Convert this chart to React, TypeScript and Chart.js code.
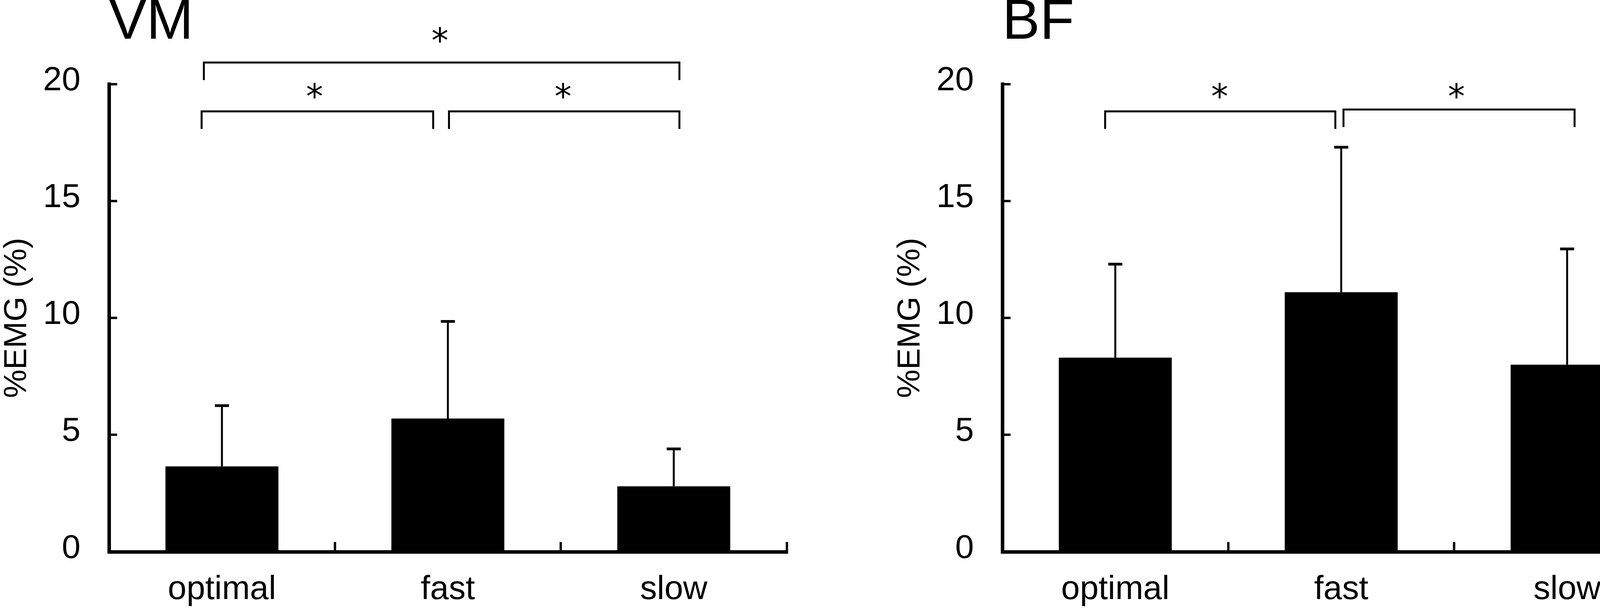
import React, { useEffect, useRef } from 'react';
import { Chart, registerables } from 'chart.js';

Chart.register(...registerables);

// ---------- data ----------
const CATEGORIES = ['optimal', 'fast', 'slow'];
const Y_TICKS = [0, 5, 10, 15, 20];

const VM_MEAN = [3.65, 5.7, 2.8];
const VM_SD = [2.6, 4.15, 1.6];
const BF_MEAN = [8.3, 11.1, 8.0];
const BF_SD = [4.0, 6.2, 4.95];

// significance brackets (x in category units, y in %EMG units)
const VM_BRACKET_FROM = [-0.08, -0.09, 1.005];
const VM_BRACKET_TO = [2.025, 0.935, 2.025];
const VM_BRACKET_LEVEL = [20.92, 18.83, 18.83];
const VM_STAR_X = [0.965, 0.41, 1.51];
const VM_STAR_Y = [22.1, 19.72, 19.72];

const BF_BRACKET_FROM = [-0.045, 1.01];
const BF_BRACKET_TO = [0.974, 2.033];
const BF_BRACKET_LEVEL = [18.83, 18.91];
const BF_STAR_X = [0.462, 1.51];
const BF_STAR_Y = [19.72, 19.72];

// ---------- styles ----------
const FONT = "'Liberation Sans', Arial, sans-serif";
const CANVAS_W = 2030;
const CANVAS_H = 1561;
const LEG_PX = 45;
const STAR_INK = 40;

function makePlugin(mean: number[], sd: number[], from: number[], to: number[], level: number[], starX: number[], starY: number[]) {
  return {
    id: 'annot',
    afterDatasetsDraw(chart: any) {
      const ctx = chart.ctx;
      const ys = chart.scales.y;
      const meta = chart.getDatasetMeta(0);
      ctx.save();
      ctx.strokeStyle = '#000';
      ctx.lineCap = 'butt';
      meta.data.forEach((bar: any, i: number) => {
        const x = bar.x;
        const yb = ys.getPixelForValue(mean[i]);
        const yt = ys.getPixelForValue(mean[i] + sd[i]);
        ctx.lineWidth = 5;
        ctx.beginPath();
        ctx.moveTo(x, yb);
        ctx.lineTo(x, yt);
        ctx.stroke();
        ctx.lineWidth = 7;
        ctx.beginPath();
        ctx.moveTo(x - 18, yt);
        ctx.lineTo(x + 18, yt);
        ctx.stroke();
      });
      ctx.restore();
    },
    afterDraw(chart: any) {
      const ctx = chart.ctx;
      const xs = chart.scales.x;
      const ys = chart.scales.y;
      ctx.save();
      ctx.strokeStyle = '#000';
      ctx.fillStyle = '#000';
      ctx.lineWidth = 5;
      ctx.lineJoin = 'miter';
      for (let i = 0; i < from.length; i++) {
        const x1 = xs.getPixelForValue(from[i]);
        const x2 = xs.getPixelForValue(to[i]);
        const yl = ys.getPixelForValue(level[i]);
        ctx.beginPath();
        ctx.moveTo(x1, yl + LEG_PX);
        ctx.lineTo(x1, yl);
        ctx.lineTo(x2, yl);
        ctx.lineTo(x2, yl + LEG_PX);
        ctx.stroke();
      }
      ctx.font = `100px 'DejaVu Sans'`;
      const m0 = ctx.measureText('*');
      const h0 = m0.actualBoundingBoxAscent + m0.actualBoundingBoxDescent;
      const size = (100 * STAR_INK) / (h0 || 45);
      ctx.font = `${size}px 'DejaVu Sans'`;
      const m = ctx.measureText('*');
      ctx.textAlign = 'center';
      ctx.textBaseline = 'alphabetic';
      for (let i = 0; i < starX.length; i++) {
        const sx = xs.getPixelForValue(starX[i]);
        const sy = ys.getPixelForValue(starY[i]);
        const by = sy + (m.actualBoundingBoxAscent - m.actualBoundingBoxDescent) / 2;
        ctx.fillText('*', sx, by);
      }
      ctx.restore();
    },
  };
}

function Panel(props: {
  title: string; left: number; mean: number[]; sd: number[];
  from: number[]; to: number[]; level: number[]; starX: number[]; starY: number[];
}) {
  const ref = useRef<HTMLCanvasElement>(null);
  useEffect(() => {
    if (!ref.current) return;
    const chart = new Chart(ref.current, {
      type: 'bar',
      data: {
        labels: CATEGORIES,
        datasets: [{
          data: props.mean,
          backgroundColor: '#000',
          borderWidth: 0,
          barPercentage: 0.5,
          categoryPercentage: 1,
        }],
      },
      options: {
        responsive: false,
        animation: false,
        devicePixelRatio: 1,
        layout: { padding: { top: 0, left: 0, right: 16, bottom: 0 } },
        plugins: {
          legend: { display: false },
          tooltip: { enabled: false },
          title: {
            display: true,
            text: props.title,
            align: 'start',
            fullSize: false,
            color: '#000',
            font: { family: FONT, size: 144, weight: 'normal', lineHeight: 0.82 },
            padding: { top: 0, bottom: 97 },
          },
        },
        scales: {
          x: {
            type: 'category',
            offset: true,
            afterFit: (s: any) => { s.height = 149; },
            grid: {
              offset: true,
              drawOnChartArea: false,
              drawTicks: true,
              tickLength: -25,
              tickWidth: 6,
              tickColor: '#000',
            },
            border: { display: true, color: '#000', width: 9 },
            ticks: {
              color: '#000',
              font: { family: FONT, size: 86, lineHeight: 1.2 },
              padding: 71,
              maxRotation: 0,
            },
          },
          y: {
            min: 0,
            max: 20,
            afterFit: (s: any) => { s.width = 279; },
            afterBuildTicks: (s: any) => { s.ticks = Y_TICKS.map((v) => ({ value: v })); },
            grid: {
              drawOnChartArea: false,
              drawTicks: true,
              tickLength: -21,
              tickWidth: 6,
              tickColor: '#000',
            },
            border: { display: true, color: '#000', width: 9 },
            ticks: {
              color: '#000',
              font: { family: FONT, size: 86, lineHeight: 1.2 },
              padding: 94,
              labelOffset: -8,
              callback: (v: any) => String(v),
            },
            title: {
              display: true,
              text: '%EMG (%)',
              color: '#000',
              font: { family: FONT, size: 82, lineHeight: 1 },
              padding: { top: 3, bottom: 0 },
            },
          },
        },
      },
      plugins: [makePlugin(props.mean, props.sd, props.from, props.to, props.level, props.starX, props.starY)],
    } as any);
    return () => chart.destroy();
  }, []);
  return (
    <canvas
      ref={ref}
      width={CANVAS_W}
      height={CANVAS_H}
      style={{ position: 'absolute', left: props.left, top: 0, width: CANVAS_W, height: CANVAS_H, display: 'block' }}
    />
  );
}

export default function App() {
  return (
    <div style={{ position: 'absolute', left: 0, top: 0, width: 4317, height: 1561, background: '#fff', overflow: 'hidden' }}>
      <Panel title="VM" left={0} mean={VM_MEAN} sd={VM_SD}
        from={VM_BRACKET_FROM} to={VM_BRACKET_TO} level={VM_BRACKET_LEVEL} starX={VM_STAR_X} starY={VM_STAR_Y} />
      <Panel title="BF" left={2287} mean={BF_MEAN} sd={BF_SD}
        from={BF_BRACKET_FROM} to={BF_BRACKET_TO} level={BF_BRACKET_LEVEL} starX={BF_STAR_X} starY={BF_STAR_Y} />
    </div>
  );
}
